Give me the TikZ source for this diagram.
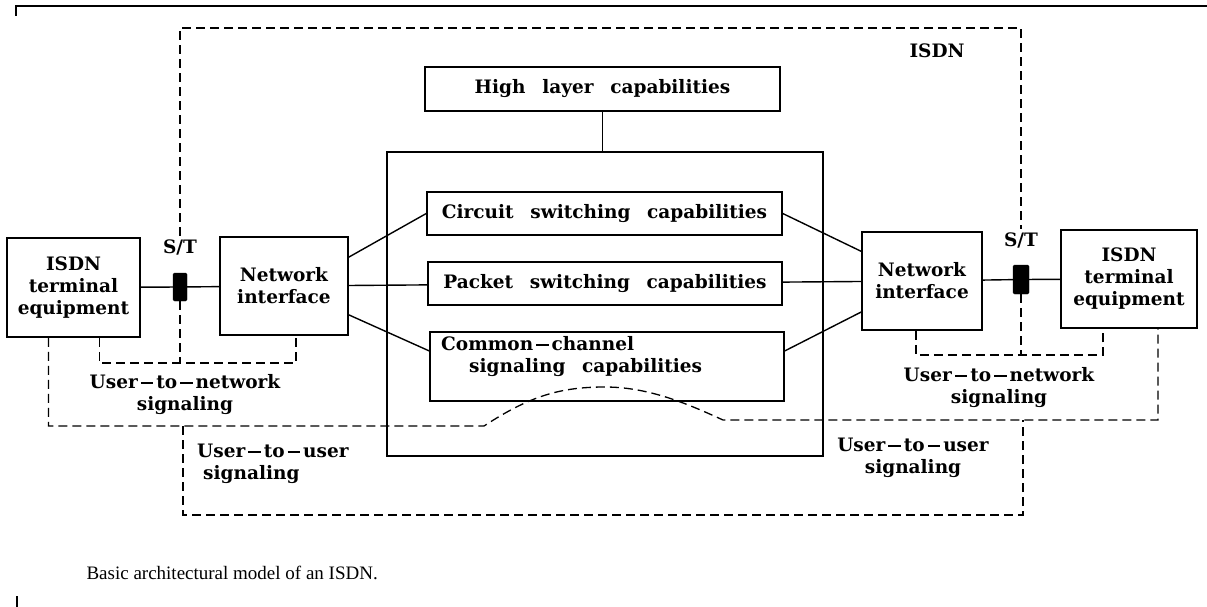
\documentclass[tikz,border=0pt]{standalone}
\usepackage{fontspec}
\setmainfont[WordSpace=2.6]{DejaVu Serif}
\newfontfamily\capfont{Liberation Serif}
\newcommand\sigdash{\kern3pt\rule[5pt]{12.5pt}{1.8pt}\kern3pt}
\tikzset{
  % boxes, interface points and signaling paths
  unit node/.style={rectangle,draw,line width=1.5pt,align=center,inner sep=2pt},
  st node/.style={rectangle,draw,fill=black,rounded corners=1.5pt,minimum width=14,minimum height=28,inner sep=0pt},
  sig line/.style={line width=1.3pt,dash pattern=on 9pt off 5pt},
  link/.style={line width=1.4pt},
  sig label/.style={align=center,inner sep=0pt}
}
\begin{document}
\begin{tikzpicture}[x=1pt, y=-1pt, font=\fontsize{18.5}{22}\selectfont\bfseries]
  \useasboundingbox (0,0) rectangle (1207,607);

  % page frame
  \draw[line width=1.3pt] (16,16) -- (16,6) -- (1207,6);
  \draw[line width=1.3pt] (17,596) -- (17,607);

  \node(termL) at (73.5,287.5) [unit node,minimum width=133,minimum height=99]{ISDN\\terminal\\equipment};
  \node(stL) at (180,287) [st node]{};
  \node(netL) at (284,286) [unit node,minimum width=128,minimum height=98]{Network\\interface};

  \node(high) at (602.5,89) [unit node,minimum width=355,minimum height=44]{High layer capabilities};
  \node(core) at (605,304) [unit node,minimum width=436,minimum height=304]{};
  \node(circuit) at (604.5,213.5) [unit node,minimum width=355,minimum height=43]{Circuit switching capabilities};
  \node(packet) at (605,283.5) [unit node,minimum width=354,minimum height=43]{Packet switching capabilities};
  \node(common) at (607,366.5) [unit node,minimum width=354,minimum height=69]{};
  \node(commontxt) at (441,357) [anchor=west,align=left,inner sep=0pt]{Common\sigdash channel\\\hspace*{28pt}signaling capabilities};

  \node(netR) at (922,281) [unit node,minimum width=120,minimum height=98]{Network\\interface};
  \node(stR) at (1021,279.5) [st node,minimum width=16,minimum height=29]{};
  \node(termR) at (1129,279) [unit node,minimum width=136,minimum height=98]{ISDN\\terminal\\equipment};

  \node(stLlbl) at (180,247) {S/T};
  \node(stRlbl) at (1021,240) {S/T};
  \node(isdn) at (937,51) {ISDN};
  \node(unLlbl) at (185,395) [sig label]{User\sigdash to\sigdash network\\signaling};
  \node(unRlbl) at (999,388) [sig label]{User\sigdash to\sigdash network\\signaling};
  \node(uuLlbl) at (197,464) [sig label,anchor=west,align=left]{User\sigdash to\sigdash user\\\hspace*{6pt}signaling};
  \node(uuRlbl) at (913,458) [sig label]{User\sigdash to\sigdash user\\signaling};

  \draw[link] (termL) -- (stL) -- (netL);
  \draw[link] (netL.24) -- (circuit.west);
  \draw[link] (netL) -- (packet);
  \draw[link] (netL.-24) -- (common.175);
  \draw[link] (circuit.east) -- (netR.154);
  \draw[link] (packet) -- (netR);
  \draw[link] (common.5) -- (netR.207);
  \draw[link] (netR) -- (stR) -- (termR);
  \draw[link] (high.south) -- (high.south |- core.north);

  %% ISDN boundary, upper part
  \coordinate(isdntop) at (600,28);
  \draw[sig line] (stLlbl.north) |- (isdntop) -| (stRlbl.north);

  %% user-to-network signaling
  \coordinate(unLbot) at (180,363);
  \draw[sig line] ([xshift=26pt]termL.south) |- (unLbot) -| ([xshift=12pt]netL.south);
  \draw[sig line] (stL.south) -- (unLbot);
  \coordinate(unRbot) at (1021,355);
  \draw[sig line] ([xshift=-6pt]netR.south) |- (unRbot) -| ([xshift=-26pt]termR.south);
  \draw[sig line] (stR.south) -- (unRbot);

  %% user-to-user signaling
  \coordinate(uuL) at (183,426);
  \coordinate(uuR) at (1023,420);
  \draw[sig line] ([xshift=-25pt]termL.south) |- (uuL) -- (484,426)
    .. controls (530,396) and (560,387) .. (605,387)
    .. controls (650,387) and (690,405) .. (723,420) -- (uuR) -| ([xshift=29pt]termR.south);

  %% ISDN boundary, lower part
  \coordinate(isdnbot) at (600,515);
  \draw[sig line] (uuL) |- (isdnbot) -| (uuR);

  \node(caption) at (83,573) [anchor=west,font=\capfont\fontsize{19}{23}\selectfont]{Basic architectural model of an ISDN.};
\end{tikzpicture}
\end{document}
